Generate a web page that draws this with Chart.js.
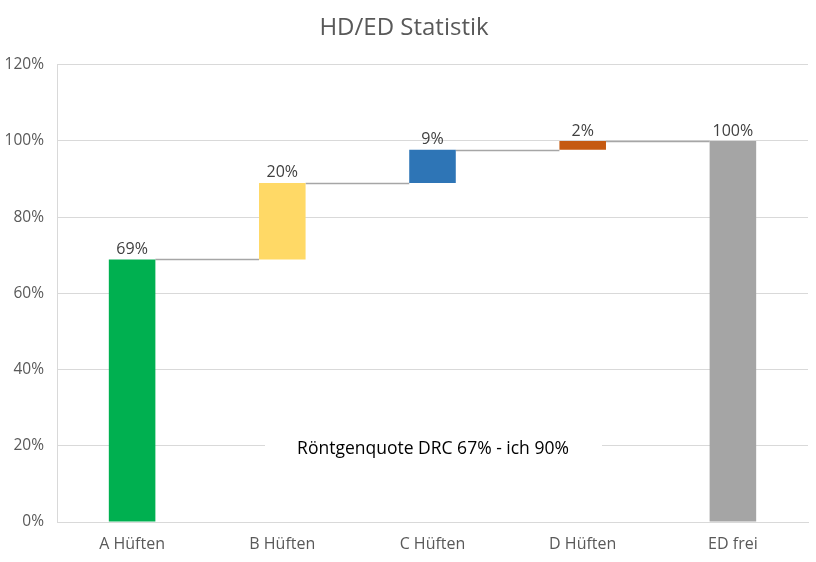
<!DOCTYPE html>
<html>
<head>
<meta charset="utf-8">
<script src="https://cdn.jsdelivr.net/npm/chart.js@4.4.1/dist/chart.umd.min.js"></script>
<style>
    html, body { margin: 0; padding: 0; background: #ffffff; }
    #wrap { width: 816px; height: 562px; }
</style>
</head>
<body>
<div id="wrap"><canvas id="chart" width="816" height="562"></canvas></div>
<script>
const categories = ["A Hüften", "B Hüften", "C Hüften", "D Hüften", "ED frei"];
const steps = [68.9, 20.1, 8.7, 2.3];   // increments A..D
const total = 100;                       // ED frei total bar
const yTicks = [0, 20, 40, 60, 80, 100, 120];
const barColors = ["#00B050", "#FFD966", "#2E75B6", "#C55A11", "#A5A5A5"];
const noteText = "Röntgenquote DRC 67% - ich 90%";

// floating bars: [start, end]
const floating = [];
let run = 0;
for(let i = 0; i < steps.length; i += 1)
{
    floating.push([run, run + steps[i]]);
    run += steps[i];
}
floating.push([0, total]);

const labelTexts = steps.map(s => Math.round(s) + "%").concat([total + "%"]);

const FONT = "'Open Sans', 'Noto Sans', sans-serif";

const waterfallExtras = {
    id: "waterfallExtras",
    beforeDatasetsDraw(chart)
    {
        const ctx = chart.ctx;
        const meta = chart.getDatasetMeta(0);
        const y = chart.scales.y;

        // connector lines
        ctx.save();
        ctx.strokeStyle = "#A6A6A6";
        ctx.lineWidth = 1.5;
        for(let i = 0; i < meta.data.length - 1; i += 1)
        {
            const a = meta.data[i];
            const b = meta.data[i + 1];
            const level = floating[i][1];
            const py = Math.round(y.getPixelForValue(level)) + 0.5;
            ctx.beginPath();
            ctx.moveTo(a.x + a.width / 2, py);
            ctx.lineTo(b.x - b.width / 2, py);
            ctx.stroke();
        }
        ctx.restore();
    },
    afterDatasetsDraw(chart)
    {
        const ctx = chart.ctx;
        const meta = chart.getDatasetMeta(0);
        const y = chart.scales.y;

        // data labels
        ctx.save();
        ctx.font = "16px " + FONT;
        ctx.fillStyle = "#404040";
        ctx.textAlign = "center";
        ctx.textBaseline = "bottom";
        meta.data.forEach((bar, i) => {
            const top = y.getPixelForValue(floating[i][1]);
            ctx.fillText(labelTexts[i], bar.x, top - 2);
        });

        // note text box
        const cx = 433;
        const cy = 449;
        ctx.fillStyle = "#ffffff";
        ctx.fillRect(265, cy - 14, 337, 28);
        ctx.font = "17.5px " + FONT;
        ctx.fillStyle = "#000000";
        ctx.textBaseline = "middle";
        ctx.fillText(noteText, cx, cy);
        ctx.restore();
    }
};

new Chart(document.getElementById("chart"),
{
    type: "bar",
    data:
    {
        labels: categories,
        datasets:
        [{
            data: floating,
            backgroundColor: barColors,
            borderWidth: 0,
            barPercentage: 0.31,
            categoryPercentage: 1.0
        }]
    },
    options:
    {
        responsive: false,
        animation: false,
        layout: { padding: { left: 0, right: 8, top: 0, bottom: 0 } },
        plugins:
        {
            legend: { display: false },
            tooltip: { enabled: false },
            title:
            {
                display: true,
                text: "HD/ED Statistik",
                color: "#595959",
                font: { family: FONT, size: 24, weight: "normal" },
                padding: { top: 14, bottom: 22 }
            }
        },
        scales:
        {
            x:
            {
                grid: { display: false, drawTicks: false },
                border: { display: true, color: "#D9D9D9", width: 1 },
                ticks: { color: "#595959", font: { family: FONT, size: 16 }, padding: 13 },
                afterFit(scale) { scale.height = 40; }
            },
            y:
            {
                min: 0,
                max: 120,
                afterBuildTicks(scale) { scale.ticks = yTicks.map(v => ({ value: v })); },
                grid: { color: "#D9D9D9", drawTicks: false },
                border: { display: true, color: "#D9D9D9" },
                ticks: {
                    color: "#595959",
                    font: { family: FONT, size: 15.5 },
                    padding: 13,
                    callback: v => v + "%"
                },
                afterFit(scale) { scale.width = 57; }
            }
        }
    },
    plugins: [waterfallExtras]
});
</script>
</body>
</html>
